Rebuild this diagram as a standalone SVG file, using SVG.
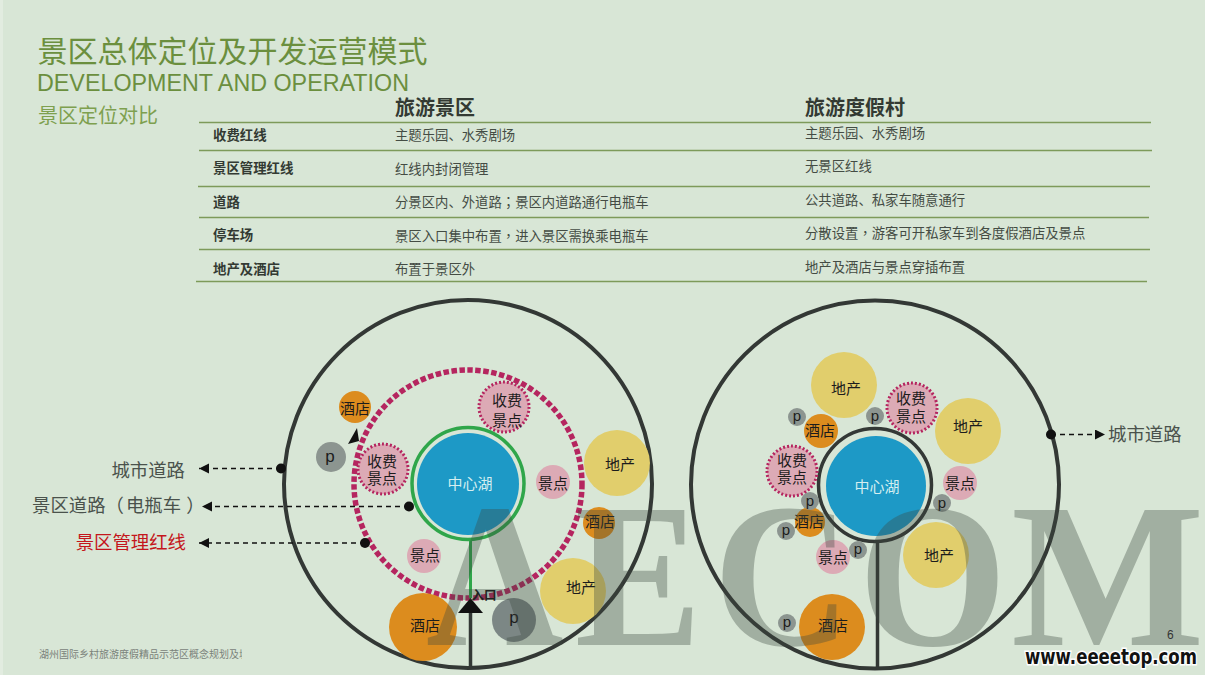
<svg xmlns="http://www.w3.org/2000/svg" width="1205" height="675" viewBox="0 0 1205 675">
<style>
text{font-family:"Liberation Sans","Noto Sans CJK SC",sans-serif}
.cjk{font-family:"Noto Sans CJK SC",sans-serif}
.tc{font-family:"Noto Sans CJK TC",sans-serif}
.t{font-size:13.35px;fill:#444c44;font-family:"Noto Sans CJK SC",sans-serif}
.h{font-size:13.4px;font-weight:700;fill:#333a33;font-family:"Noto Sans CJK SC",sans-serif}
.hd{font-size:20px;font-weight:700;fill:#333a33;font-family:"Noto Sans CJK SC",sans-serif}
.rl{stroke:#7d9a5a;stroke-width:1.3;fill:none}
.big{fill:none;stroke:#333835;stroke-width:4}
.road{fill:none;stroke:#333835;stroke-width:3.5}
.lb{font-size:15px;fill:#1c1c1c;text-anchor:middle;font-family:"Noto Sans CJK SC",sans-serif}
.lake{fill:#1d99c6}
.lk{font-size:15px;fill:#d5eef0;text-anchor:middle;font-family:"Noto Sans CJK SC",sans-serif}
.or{fill:#dc8c1e}.ye{fill:#e1ce6c}.pk{fill:#dcaab5}
.pd{fill:#dcaab5;stroke:#b5255f;stroke-width:3;stroke-dasharray:2 2}
.pc{fill:#8c9590}
.pt{font-size:17px;fill:#1c1c1c;text-anchor:middle;font-family:"Liberation Sans",sans-serif}
.pts{font-size:15px;fill:#1c1c1c;text-anchor:middle;font-family:"Liberation Sans",sans-serif}
.cn{fill:none;stroke:#111;stroke-width:1.3;stroke-dasharray:5 4}
.side{font-size:18.4px;fill:#4a524c;font-family:"Noto Sans CJK SC",sans-serif}
.wm{font-family:"Liberation Serif",serif;font-weight:700;font-size:205px;fill:#3c483e;fill-opacity:.35}
</style>
<defs>
<marker id="ah" markerWidth="12" markerHeight="12" refX="10" refY="5" orient="auto" markerUnits="userSpaceOnUse"><path d="M0 0L10 5L0 10Z" fill="#111"/></marker>
<clipPath id="fc"><rect x="30" y="640" width="212" height="30"/></clipPath>
</defs>
<rect width="1205" height="675" fill="#d8e6d6"/>
<rect width="3" height="675" fill="#e2ece0"/>

<g id="title">
<text x="37.500" y="62" class="cjk" font-size="30" fill="#6b8f3e">景区总体定位及开发运营模式</text>
<text x="37" y="91" font-size="24" fill="#6b8f3e" textLength="372" lengthAdjust="spacingAndGlyphs">DEVELOPMENT AND OPERATION</text>
<text x="38" y="123" class="cjk" font-size="20" fill="#7ea04f">景区定位对比</text>
</g>

<g id="table">
<text x="395" y="115" class="hd">旅游景区</text><text x="805" y="115" class="hd">旅游度假村</text>
<path class="rl" d="M199 122.500H1151"/><path class="rl" d="M199 150.500H1152"/><path class="rl" d="M198 186.500H1150"/><path class="rl" d="M199 217.500H1149"/><path class="rl" d="M199 249.500H1150"/><path class="rl" d="M196 281.500H1147"/>
<text x="213" y="140" class="h">收费红线</text><text x="395" y="140" class="t">主题乐园、水秀剧场</text><text x="805" y="138" class="t">主题乐园、水秀剧场</text>
<text x="213" y="173" class="h">景区管理红线</text><text x="395" y="174" class="t">红线内封闭管理</text><text x="805" y="171" class="t">无景区红线</text>
<text x="213" y="207" class="h">道路</text><text x="395" y="207" class="t">分景区内、外道路<tspan class="tc">；</tspan>景区内道路通行电瓶车</text><text x="805" y="205" class="t">公共道路、私家车随意通行</text>
<text x="213" y="240" class="h">停车场</text><text x="395" y="241" class="t">景区入口集中布置<tspan class="tc">，</tspan>进入景区需换乘电瓶车</text><text x="805" y="238" class="t">分散设置<tspan class="tc">，</tspan>游客可开私家车到各度假酒店及景点</text>
<text x="213" y="274" class="h">地产及酒店</text><text x="395" y="274" class="t">布置于景区外</text><text x="805" y="272" class="t">地产及酒店与景点穿插布置</text>
</g>

<g id="left-diagram">
<circle class="big" cx="468" cy="484" r="184"/>
<circle cx="468" cy="484" r="114" fill="none" stroke="#b5255f" stroke-width="5.500" stroke-dasharray="5.500 2.500"/>
<g id="L-ring"><circle cx="468" cy="483.500" r="56" fill="none" stroke="#2fa64a" stroke-width="3.500"/><path d="M470.500 540V598" fill="none" stroke="#2fa64a" stroke-width="3"/></g>
<g id="L-lake"><circle class="lake" cx="468" cy="484" r="51"/><text class="lk" x="470" y="489">中心湖</text></g>
<g id="L-p1"><circle class="pc" cx="331" cy="457" r="15"/><text class="pt" x="330" y="462">p</text></g>
<g id="L-h1"><circle class="or" cx="355" cy="407" r="16"/><text class="lb" x="355" y="414">酒店</text></g>
<g id="L-s1"><circle class="pd" cx="383" cy="469" r="25"/><text class="lb" x="382" y="467">收费</text><text class="lb" x="382" y="484">景点</text></g>
<g id="L-s2"><circle class="pd" cx="504" cy="407" r="25"/><text class="lb" x="507" y="406">收费</text><text class="lb" x="507" y="426">景点</text></g>
<g id="L-v1"><circle class="pk" cx="553" cy="482" r="17"/><text class="lb" x="553" y="489">景点</text></g>
<g id="L-v2"><circle class="pk" cx="424" cy="556" r="17"/><text class="lb" x="425" y="561">景点</text></g>
<g id="L-e1"><circle class="ye" cx="617" cy="463" r="33"/><text class="lb" x="620" y="470">地产</text></g>
<g id="L-h2"><circle class="or" cx="599" cy="523" r="16"/><text class="lb" x="600" y="527">酒店</text></g>
<g id="L-e2"><circle class="ye" cx="573" cy="591" r="33"/><text class="lb" x="581" y="593">地产</text></g>
<g id="L-p2"><circle fill="#7c8785" cx="514" cy="620" r="22"/><text class="pt" x="514" y="623">p</text></g>
<g id="L-h3"><circle class="or" cx="423" cy="627" r="34"/><text class="lb" x="425" y="631">酒店</text></g>
<path d="M470.500 612V668" class="road"/>
<path d="M470.500 598L483 613H458Z" fill="#111"/>
<path d="M357 428L348 444L359 441Z" fill="#111"/>
<text x="484" y="600" class="cjk" font-size="12.500" font-weight="700" fill="#111" text-anchor="middle">入口</text>
</g>

<g id="right-diagram">
<circle class="big" cx="875" cy="484.500" r="184"/>
<path d="M877.500 542V669" class="road"/>
<g id="R-lake"><circle class="lake" cx="876" cy="486" r="50"/><text class="lk" x="877" y="492">中心湖</text></g>
<circle class="road" cx="875" cy="485" r="56.500"/>
<g id="R-e1"><circle class="ye" cx="844" cy="385" r="33"/><text class="lb" x="846" y="394">地产</text></g>
<g id="R-e2"><circle class="ye" cx="968" cy="431" r="33"/><text class="lb" x="968" y="432">地产</text></g>
<g id="R-e3"><circle class="ye" cx="936" cy="555" r="33"/><text class="lb" x="939" y="561">地产</text></g>
<g id="R-s1"><circle class="pd" cx="912" cy="408" r="25"/><text class="lb" x="911" y="404">收费</text><text class="lb" x="911" y="422">景点</text></g>
<g id="R-s2"><circle class="pd" cx="792" cy="471" r="25"/><text class="lb" x="792" y="466">收费</text><text class="lb" x="792" y="483">景点</text></g>
<g id="R-v1"><circle class="pk" cx="960" cy="483" r="17"/><text class="lb" x="960" y="489">景点</text></g>
<g id="R-v2"><circle class="pk" cx="833" cy="557" r="17"/><text class="lb" x="833" y="563">景点</text></g>
<g id="R-h1"><circle class="or" cx="821" cy="431" r="17"/><text class="lb" x="820" y="436">酒店</text></g>
<g id="R-h2"><circle class="or" cx="810" cy="522" r="15"/><text class="lb" x="809" y="527">酒店</text></g>
<g id="R-h3"><circle class="or" cx="832" cy="627" r="33"/><text class="lb" x="833" y="631">酒店</text></g>
<g id="R-p1"><circle class="pc" cx="797" cy="417" r="9"/><text class="pts" x="797" y="421">p</text></g>
<g id="R-p2"><circle class="pc" cx="875" cy="416" r="9"/><text class="pts" x="875" y="421">p</text></g>
<g id="R-p3"><circle class="pc" cx="942" cy="503" r="9"/><text class="pts" x="942" y="508">p</text></g>
<g id="R-p4"><circle class="pc" cx="858" cy="550" r="9"/><text class="pts" x="858" y="554">p</text></g>
<g id="R-p5"><circle class="pc" cx="786" cy="531" r="9"/><text class="pts" x="786" y="535">p</text></g>
<g id="R-p6"><circle class="pc" cx="810" cy="501" r="9"/><text class="pts" x="810" y="506">p</text></g>
<g id="R-p7"><circle class="pc" cx="787" cy="623" r="9"/><text class="pts" x="787" y="627">p</text></g>
</g>

<g id="connectors">
<path class="cn" d="M281 468.500H199" marker-end="url(#ah)"/>
<path class="cn" d="M409 506.500H202" marker-end="url(#ah)"/>
<path class="cn" d="M365 543H199" marker-end="url(#ah)"/>
<path class="cn" d="M1051 434.500H1105" marker-end="url(#ah)"/>
<circle cx="281" cy="468.500" r="5" fill="#111"/><circle cx="409" cy="506.500" r="5" fill="#111"/><circle cx="365" cy="543" r="5" fill="#111"/><circle cx="1051" cy="434.500" r="5" fill="#111"/>
</g>

<g id="labels">
<text class="side" x="185" y="477" text-anchor="end">城市道路</text>
<text class="side" x="32" y="512">景区道路（<tspan dx="2">电瓶车</tspan><tspan dx="5">）</tspan></text>
<text class="side" x="186" y="549" text-anchor="end" style="fill:#c4161c">景区管理红线</text>
<text class="side" x="1108" y="441">城市道路</text>
</g>

<g id="watermark">
<text class="wm" transform="scale(.93 1)" x="458 618 767 923" y="645">AECO</text>
<text class="wm" x="1011" y="645">M</text>
</g>
<g id="footer">
<text x="39" y="658" class="cjk" font-size="10" fill="#7a827a" clip-path="url(#fc)">湖州国际乡村旅游度假精品示范区概念规划及城</text>
<text x="1167" y="639" font-size="12" fill="#333">6</text>
<text x="1025" y="664" font-size="21" font-weight="700" style="font-family:'DejaVu Sans',sans-serif;paint-order:stroke" stroke="#fff" stroke-width="3" fill="#111" textLength="172" lengthAdjust="spacingAndGlyphs">www.eeeetop.com</text>
</g>
</svg>
